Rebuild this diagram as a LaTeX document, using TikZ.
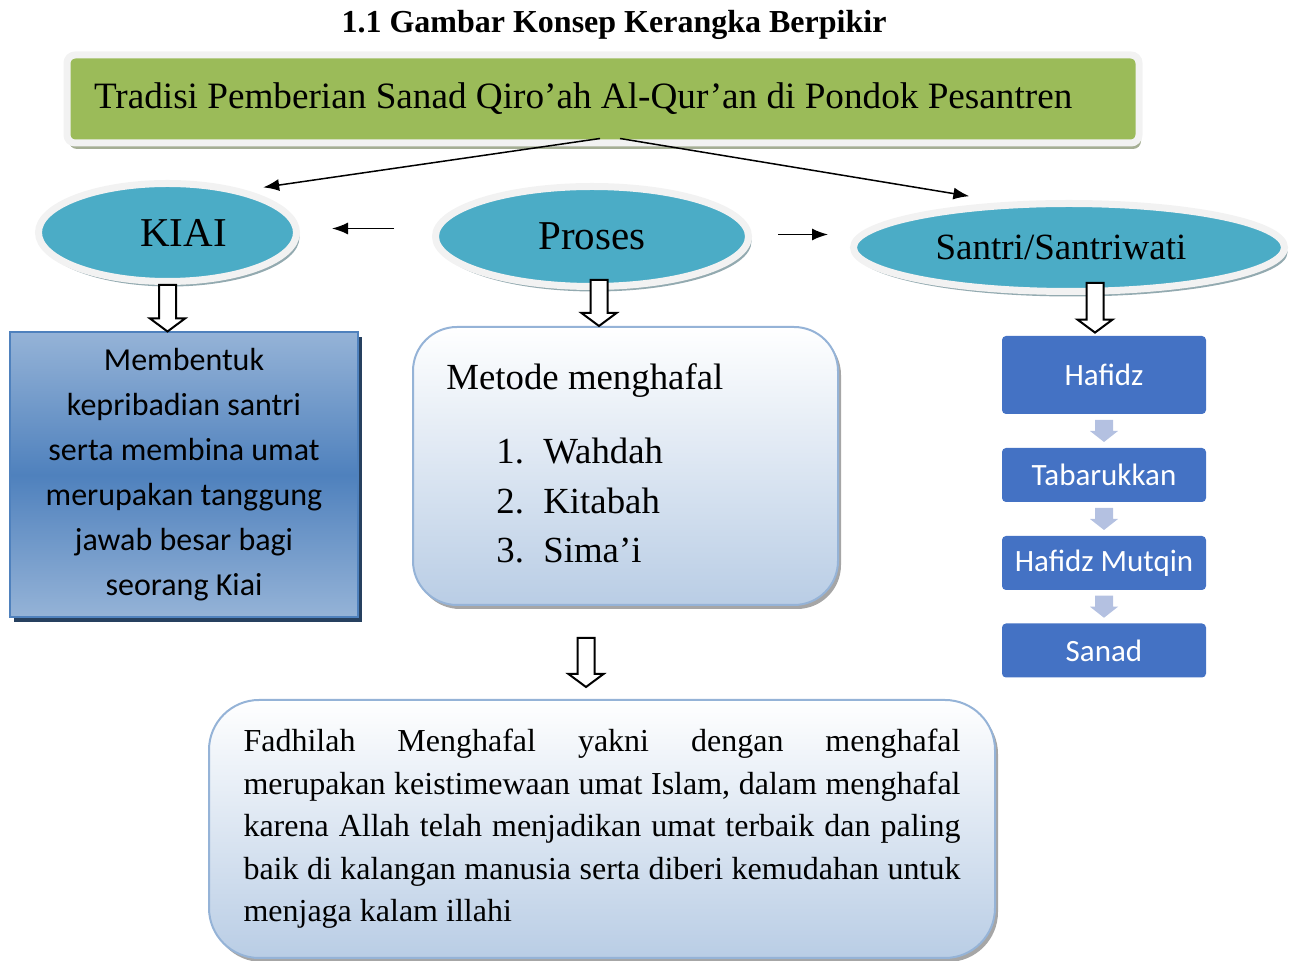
\documentclass[tikz,border=0pt]{standalone}
\usepackage{fontspec}
\setmainfont{Liberation Serif}
\newfontfamily\calibri{Carlito}
\usetikzlibrary{calc,arrows.meta,shapes.geometric,shadows}

\definecolor{hijau}{HTML}{9BBB59}
\definecolor{tepi}{HTML}{F2F2F2}
\definecolor{bayanghijau}{HTML}{A5AE94}
\definecolor{toska}{HTML}{4BACC6}
\definecolor{bayangtoska}{HTML}{93AAB0}
\definecolor{birumuda}{HTML}{95B3D7}
\definecolor{birutua}{HTML}{4F81BD}
\definecolor{gelap}{HTML}{26405F}
\definecolor{langit}{HTML}{B9CDE5}
\definecolor{biru}{HTML}{4472C4}
\definecolor{panahmuda}{HTML}{B4C1E1}

% panah besar kosong (ke bawah)
\newcommand{\hollowarrow}[2]{%
  \draw[fill=white,line width=1pt,line join=miter] let \p1=(#1), \p2=(#2) in
    (\x1-4.25pt,\y1) -- (\x1+4.25pt,\y1) -- (\x1+4.25pt,\y2+6.5pt) -- (\x1+8.75pt,\y2+6.5pt)
    -- (\x1,\y2) -- (\x1-8.75pt,\y2+6.5pt) -- (\x1-4.25pt,\y2+6.5pt) -- cycle;}
% panah kecil antar langkah
\newcommand{\chainarrow}[2]{%
  \fill[panahmuda] let \p1=($(#1.south)!.5!(#2.north)$) in
    (\x1-4.5pt,\y1+5.5pt) -- (\x1+4.5pt,\y1+5.5pt) -- (\x1+4.5pt,\y1) -- (\x1+7pt,\y1)
    -- (\x1,\y1-5.5pt) -- (\x1-7pt,\y1) -- (\x1-4.5pt,\y1) -- cycle;}
% satu baris rata kiri-kanan
\newcommand{\barispenuh}[1]{\makebox[358.5pt][s]{#1}}

\begin{document}
\begin{tikzpicture}[x=0.5pt,y=-0.5pt,>={Latex[length=8pt,width=6pt]},
  judul/.style={rectangle,rounded corners=4pt,fill=hijau,draw=tepi,line width=3.5pt,
    minimum width=536pt,minimum height=44pt,inner xsep=13.5pt,text width=509pt,align=flush left,
    font=\fontsize{18.6}{22}\selectfont,
    drop shadow={shadow xshift=1pt,shadow yshift=-3pt,fill=bayanghijau,opacity=1}},
  elips/.style={ellipse,fill=toska,draw=tepi,line width=3.5pt,inner sep=0pt,
    drop shadow={shadow xshift=1.5pt,shadow yshift=-2.5pt,fill=bayangtoska,opacity=1}},
  kotak/.style={rectangle,rounded corners=22pt,draw=birumuda,line width=1pt,
    top color=white,bottom color=langit,
    drop shadow={shadow xshift=1.5pt,shadow yshift=-2pt,fill=black!35,opacity=1}},
  langkah/.style={rectangle,rounded corners=2pt,fill=biru,minimum width=102pt,text=white,
    font=\calibri\fontsize{15.5}{18}\selectfont},
  garis/.style={->,line width=0.75pt}]
% batas gambar
\useasboundingbox (0,0) rectangle (1292,961);

% judul gambar
\node[font=\bfseries\fontsize{16}{19}\selectfont] (caption) at (614,25) {1.1 Gambar Konsep Kerangka Berpikir};

% kotak hijau
\node[judul] (tradisi) at (603,99) {Tradisi Pemberian Sanad Qiro’ah Al-Qur’an di Pondok Pesantren};

% elips
\node[elips,minimum width=129pt,minimum height=49pt,font=\fontsize{20.5}{24}\selectfont] (kiai) at (167.5,232.5) {\hspace*{16pt}KIAI};
\node[elips,minimum width=156.5pt,minimum height=50pt,font=\fontsize{20.5}{24}\selectfont] (proses) at (592,236.5) {Proses};
\node[elips,minimum width=215.5pt,minimum height=44pt,font=\fontsize{18.5}{22}\selectfont] (santri) at (1069,247.5) {Santri/Santriwati\hspace*{8pt}};

% panah dari kotak hijau
\draw[garis] ($(tradisi.south)+(-3,-8)$) -- ($(kiai.north east)+(2,-8)$);
\draw[garis] ($(tradisi.south)+(17,-8)$) -- ($(santri.157)+(0,-9)$);
\draw[garis] ($(proses.west)+(-38,-8)$) -- ($(kiai.east |- proses.west)+(32,-8)$);
\draw[garis] ($(proses.east)+(26,-2)$) -- ($(santri.west |- proses.east)+(-22,-2)$);

% kotak kiai
\node[rectangle,draw=birutua,line width=1pt,minimum width=174pt,minimum height=142.5pt,
  top color=birumuda,bottom color=birumuda,middle color=birutua,align=center,
  font=\calibri\fontsize{16}{22.5}\selectfont,
  drop shadow={shadow xshift=2pt,shadow yshift=-2.5pt,fill=gelap,opacity=1}] (kiaibox) at (184,475)
  {Membentuk\\ kepribadian santri\\ serta membina umat\\ merupakan tanggung\\ jawab besar bagi\\ seorang Kiai};

% kotak metode
\node[kotak,minimum width=212.5pt,minimum height=139pt] (metode) at (625.5,466) {};
\node[anchor=north west,inner sep=0pt,align=left,font=\fontsize{18.4}{24.75}\selectfont] (metodeteks)
  at ($(metode.north west)+(34,37)$)
  {Metode menghafal\\[12.5pt]
  \hspace*{25pt}\makebox[23.5pt][l]{1.}Wahdah\\
  \hspace*{25pt}\makebox[23.5pt][l]{2.}Kitabah\\
  \hspace*{25pt}\makebox[23.5pt][l]{3.}Sima’i};

% kotak fadhilah
\node[kotak,rounded corners=25pt,minimum width=393pt,minimum height=129pt,text width=358.5pt,align=flush left,
  font=\fontsize{16}{21.25}\selectfont] (fadhilah) at (602,829)
  {\barispenuh{Fadhilah Menghafal yakni dengan menghafal}\\
   \barispenuh{merupakan keistimewaan umat Islam, dalam menghafal}\\
   \barispenuh{karena Allah telah menjadikan umat terbaik dan paling}\\
   \barispenuh{baik di kalangan manusia serta diberi kemudahan untuk}\\
   menjaga kalam illahi};

% langkah santri
\node[langkah,minimum height=39pt] (hafidz) at (1104,375) {Hafidz};
\node[langkah,minimum height=27pt] (tabarukkan) at (1104,475) {Tabarukkan};
\node[langkah,minimum height=27pt] (mutqin) at (1104,563) {Hafidz Mutqin};
\node[langkah,minimum height=27pt] (sanad) at (1104,650.5) {Sanad};
\chainarrow{hafidz}{tabarukkan}
\chainarrow{tabarukkan}{mutqin}
\chainarrow{mutqin}{sanad}

% panah besar
\hollowarrow{kiai.south}{kiaibox.north}
\hollowarrow{$(proses.south)+(7,-10)$}{metode.north}
\hollowarrow{$(hafidz.north |- santri.south)+(-9,-12)$}{$(hafidz.north)+(-9,-3)$}
\hollowarrow{$(fadhilah.north |- metode.south)+(-16,32)$}{$(fadhilah.north)+(-16,-12)$}

\end{tikzpicture}
\end{document}
